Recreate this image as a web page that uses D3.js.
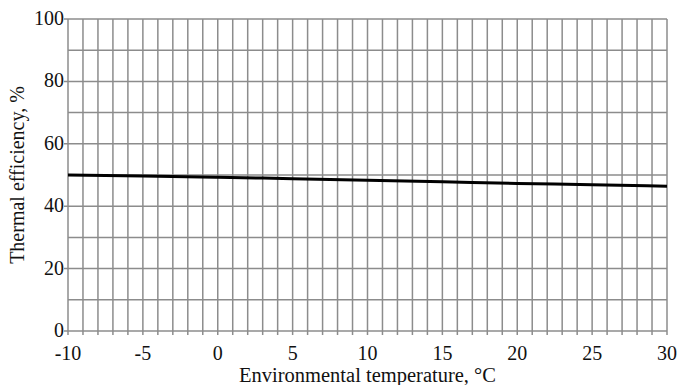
<!DOCTYPE html>
<html>
<head>
<meta charset="utf-8">
<script src="https://cdn.jsdelivr.net/npm/d3@7"></script>
</head>
<body style="margin:0;background:#fff">
<div id="chart"></div>
<script>
const temps = [-10, -5, 0, 5, 10, 15, 20, 25, 30];
const efficiency = [50.0, 49.7, 49.3, 48.8, 48.3, 47.8, 47.3, 46.9, 46.4];
const xTicks = [-10, -5, 0, 5, 10, 15, 20, 25, 30];
const yTicks = [0, 20, 40, 60, 80, 100];

const width = 678, height = 385;
const margin = { top: 19, right: 11, bottom: 54, left: 68 };
const serif = "Liberation Serif, Times New Roman, serif";

const svg = d3.select("#chart").append("svg")
  .attr("width", width).attr("height", height)
  .style("display", "block")
  .attr("font-family", serif);

const x = d3.scaleLinear().domain([-10, 30]).range([margin.left, width - margin.right]);
const y = d3.scaleLinear().domain([0, 100]).range([height - margin.bottom, margin.top]);

// grid: every 1 °C vertically, every 10 % horizontally
const grid = svg.append("g").attr("stroke", "#8c8c8c").attr("stroke-width", 1.5);
grid.selectAll("line.v").data(d3.range(-10, 31, 1)).join("line")
  .attr("class", "v")
  .attr("x1", d => x(d)).attr("x2", d => x(d))
  .attr("y1", y(100)).attr("y2", y(0) + 4);
grid.selectAll("line.h").data(d3.range(0, 101, 10)).join("line")
  .attr("class", "h")
  .attr("x1", d => x(-10) - (d % 20 === 0 ? 4 : 0)).attr("x2", x(30))
  .attr("y1", d => y(d)).attr("y2", d => y(d));

// tick labels, placed with the scales (plain hyphen for negatives)
const labels = svg.append("g").attr("fill", "#111").attr("font-size", 20);
labels.selectAll("text.xl").data(xTicks).join("text")
  .attr("class", "xl")
  .attr("x", d => x(d)).attr("y", y(0) + 29)
  .attr("text-anchor", "middle")
  .text(d => String(d));
labels.selectAll("text.yl").data(yTicks).join("text")
  .attr("class", "yl")
  .attr("x", x(-10) - 4).attr("y", d => y(d) + 6)
  .attr("text-anchor", "end")
  .text(d => String(d));

const line = d3.line().x(d => x(d[0])).y(d => y(d[1])).curve(d3.curveMonotoneX);
svg.append("path")
  .datum(temps.map((t, i) => [t, efficiency[i]]))
  .attr("d", line)
  .attr("fill", "none").attr("stroke", "#000").attr("stroke-width", 3);

svg.append("text")
  .attr("x", x(10)).attr("y", 382)
  .attr("text-anchor", "middle").attr("font-size", 20.5).attr("fill", "#111")
  .text("Environmental temperature, °C");

svg.append("text")
  .attr("transform", `translate(24,${y(50)}) rotate(-90)`)
  .attr("text-anchor", "middle").attr("font-size", 20).attr("fill", "#111")
  .text("Thermal efficiency, %");
</script>
</body>
</html>
